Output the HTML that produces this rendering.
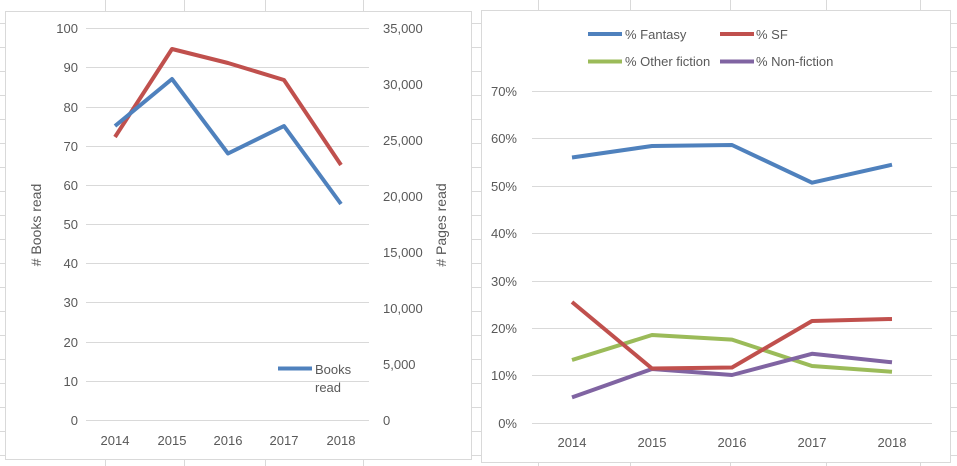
<!DOCTYPE html>
<html><head><meta charset="utf-8"><style>
body{margin:0;background:#fff;}
svg{display:block;font-family:"Liberation Sans",Arial,sans-serif;font-size:13px;fill:#595959;}
</style></head><body>
<svg width="957" height="466" viewBox="0 0 957 466">
<g stroke="#d9d9d9" stroke-width="1">
<line x1="105.5" y1="0" x2="105.5" y2="466"/><line x1="184.5" y1="0" x2="184.5" y2="466"/><line x1="265.5" y1="0" x2="265.5" y2="466"/><line x1="363.5" y1="0" x2="363.5" y2="466"/><line x1="538.5" y1="0" x2="538.5" y2="466"/><line x1="630.5" y1="0" x2="630.5" y2="466"/><line x1="730.5" y1="0" x2="730.5" y2="466"/><line x1="826.5" y1="0" x2="826.5" y2="466"/><line x1="920.5" y1="0" x2="920.5" y2="466"/>
<line x1="0" y1="23.5" x2="957" y2="23.5"/><line x1="0" y1="47.5" x2="957" y2="47.5"/><line x1="0" y1="71.5" x2="957" y2="71.5"/><line x1="0" y1="95.5" x2="957" y2="95.5"/><line x1="0" y1="119.5" x2="957" y2="119.5"/><line x1="0" y1="143.5" x2="957" y2="143.5"/><line x1="0" y1="167.5" x2="957" y2="167.5"/><line x1="0" y1="191.5" x2="957" y2="191.5"/><line x1="0" y1="215.5" x2="957" y2="215.5"/><line x1="0" y1="239.5" x2="957" y2="239.5"/><line x1="0" y1="263.5" x2="957" y2="263.5"/><line x1="0" y1="287.5" x2="957" y2="287.5"/><line x1="0" y1="311.5" x2="957" y2="311.5"/><line x1="0" y1="335.5" x2="957" y2="335.5"/><line x1="0" y1="359.5" x2="957" y2="359.5"/><line x1="0" y1="383.5" x2="957" y2="383.5"/><line x1="0" y1="407.5" x2="957" y2="407.5"/><line x1="0" y1="431.5" x2="957" y2="431.5"/><line x1="0" y1="455.5" x2="957" y2="455.5"/>
</g>
<rect x="5.5" y="11.5" width="466" height="448" fill="#fff" stroke="#d9d9d9"/>
<rect x="481.5" y="10.5" width="469" height="452" fill="#fff" stroke="#d9d9d9"/>
<g stroke="#d9d9d9">
<line x1="86" y1="28.5" x2="369" y2="28.5"/><line x1="86" y1="67.5" x2="369" y2="67.5"/><line x1="86" y1="107.5" x2="369" y2="107.5"/><line x1="86" y1="146.5" x2="369" y2="146.5"/><line x1="86" y1="185.5" x2="369" y2="185.5"/><line x1="86" y1="224.5" x2="369" y2="224.5"/><line x1="86" y1="263.5" x2="369" y2="263.5"/><line x1="86" y1="302.5" x2="369" y2="302.5"/><line x1="86" y1="342.5" x2="369" y2="342.5"/><line x1="86" y1="381.5" x2="369" y2="381.5"/><line x1="86" y1="420.5" x2="369" y2="420.5"/>
<line x1="532" y1="91.5" x2="932" y2="91.5"/><line x1="532" y1="138.5" x2="932" y2="138.5"/><line x1="532" y1="186.5" x2="932" y2="186.5"/><line x1="532" y1="233.5" x2="932" y2="233.5"/><line x1="532" y1="281.5" x2="932" y2="281.5"/><line x1="532" y1="328.5" x2="932" y2="328.5"/><line x1="532" y1="375.5" x2="932" y2="375.5"/><line x1="532" y1="423.5" x2="932" y2="423.5"/>
</g>
<g text-anchor="end">
<text x="78" y="33">100</text><text x="78" y="72">90</text><text x="78" y="112">80</text><text x="78" y="151">70</text><text x="78" y="190">60</text><text x="78" y="229">50</text><text x="78" y="268">40</text><text x="78" y="307">30</text><text x="78" y="347">20</text><text x="78" y="386">10</text><text x="78" y="425">0</text>
<text x="517" y="96">70%</text><text x="517" y="143">60%</text><text x="517" y="191">50%</text><text x="517" y="238">40%</text><text x="517" y="286">30%</text><text x="517" y="333">20%</text><text x="517" y="380">10%</text><text x="517" y="428">0%</text>
</g>
<g>
<text x="383" y="33">35,000</text><text x="383" y="89">30,000</text><text x="383" y="145">25,000</text><text x="383" y="201">20,000</text><text x="383" y="257">15,000</text><text x="383" y="313">10,000</text><text x="383" y="369">5,000</text><text x="383" y="425">0</text>
</g>
<g text-anchor="middle">
<text x="115" y="445">2014</text><text x="172" y="445">2015</text><text x="228" y="445">2016</text><text x="284" y="445">2017</text><text x="341" y="445">2018</text>
<text x="572" y="447">2014</text><text x="652" y="447">2015</text><text x="732" y="447">2016</text><text x="812" y="447">2017</text><text x="892" y="447">2018</text>
<text transform="translate(41,225) rotate(-90)" font-size="14">#  Books read</text>
<text transform="translate(446,225) rotate(-90)" font-size="14">#  Pages read</text>
</g>
<g fill="none" stroke-width="4" stroke-linejoin="round">
<polyline stroke="#c0504d" points="115,137 172,49 228,63 284,80 341,165"/>
<polyline stroke="#4f81bd" points="115,126 172,79 228,153.5 284,126 341,204"/>
<line x1="278" y1="368.5" x2="312" y2="368.5" stroke="#4f81bd"/>
<polyline stroke="#9bbb59" points="572,360 652,335 732,339.6 812,366 892,371.8"/>
<polyline stroke="#8064a2" points="572,397.4 652,369 732,375 812,353.8 892,362.3"/>
<polyline stroke="#c0504d" points="572,302 652,368.5 732,367.5 812,321 892,319"/>
<polyline stroke="#4f81bd" points="572,157.5 652,146 732,145 812,182.7 892,164.7"/>
<line x1="588" y1="34" x2="622" y2="34" stroke="#4f81bd"/>
<line x1="720" y1="34" x2="754" y2="34" stroke="#c0504d"/>
<line x1="588" y1="61.5" x2="622" y2="61.5" stroke="#9bbb59"/>
<line x1="720" y1="61.5" x2="754" y2="61.5" stroke="#8064a2"/>
</g>
<text x="315" y="374">Books</text><text x="315" y="392">read</text>
<text x="625" y="39">% Fantasy</text><text x="756" y="39">% SF</text>
<text x="625" y="66">% Other fiction</text><text x="756" y="66">% Non-fiction</text>
</svg>
</body></html>
